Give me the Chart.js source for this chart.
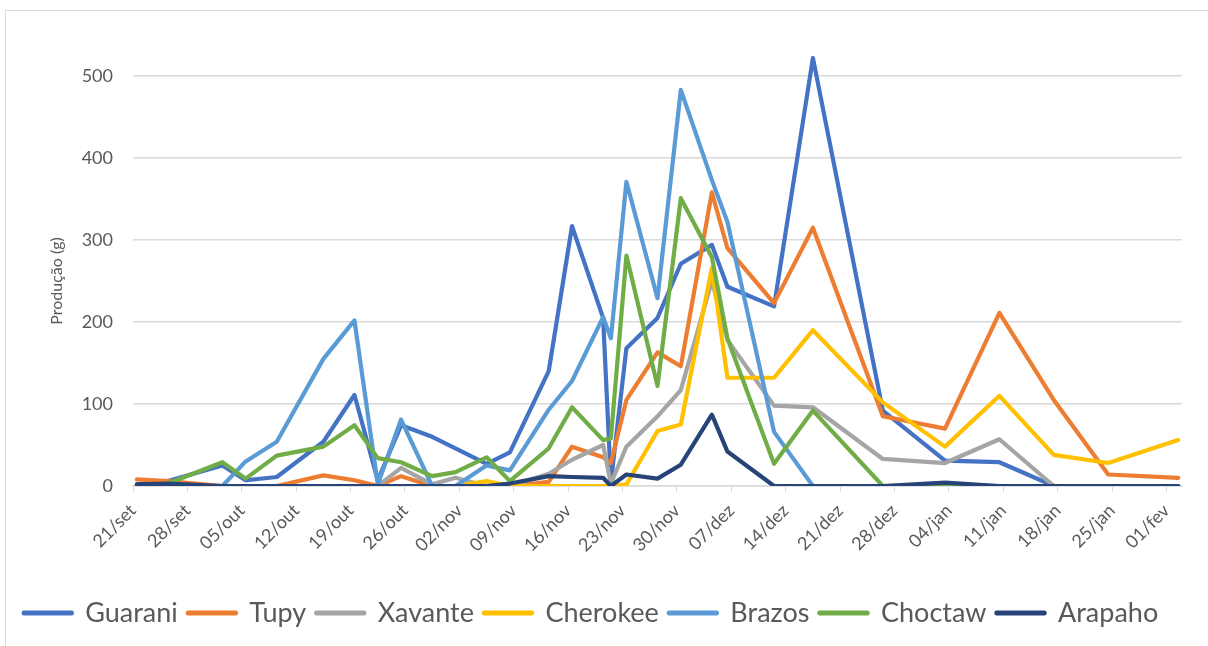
<!DOCTYPE html>
<html lang="pt">
<head>
<meta charset="utf-8">
<title>Produção por cultivar</title>
<script src="https://cdn.jsdelivr.net/npm/chart.js@4.4.1/dist/chart.umd.min.js"></script>
<style>
  html, body { margin: 0; padding: 0; background: #ffffff; }
  #wrap { position: relative; width: 1208px; height: 646px; overflow: hidden; }
  #frame { position: absolute; left: 5px; top: 10px; width: 1230px; height: 660px;
           border: 1px solid #d9d9d9; box-sizing: border-box; pointer-events: none; }
  canvas { position: absolute; left: 0; top: 0; }
</style>
</head>
<body>
<div id="wrap">
  <div id="frame"></div>
  <canvas id="chart" width="1208" height="646"></canvas>
</div>
<script>
// Harvest dates (ISO) shared by all cultivars
const harvestDates = [
  '2019-09-21','2019-09-25','2019-10-02','2019-10-05','2019-10-09','2019-10-15',
  '2019-10-19','2019-10-22','2019-10-25','2019-10-29','2019-11-01','2019-11-05',
  '2019-11-08','2019-11-13','2019-11-16','2019-11-20','2019-11-21','2019-11-23',
  '2019-11-27','2019-11-30','2019-12-04','2019-12-06','2019-12-12','2019-12-17',
  '2019-12-26','2020-01-03','2020-01-10','2020-01-17','2020-01-24','2020-02-02'
];

// Production (g) per harvest date
const guarani  = [2,6,25,7,11,54,111,7,74,60,46,27,41,140,317,205,5,168,205,271,294,243,219,522,92,31,29,0,0,0];
const tupy     = [8,6,0,0,0,13,7,0,12,0,0,0,0,5,48,35,28,105,163,146,358,290,223,315,85,70,211,105,14,10];
const xavante  = [0,0,0,0,0,0,0,0,22,2,10,0,0,15,32,50,3,48,85,117,250,178,98,96,33,28,57,0,0,0];
const cherokee = [0,0,0,0,0,0,0,0,0,0,0,6,0,0,0,0,0,2,67,75,266,132,132,190,102,48,110,38,28,56];
const brazos   = [0,0,0,30,54,155,202,2,81,0,0,25,19,93,128,206,180,371,229,483,373,322,66,0,0,0,0,0,0,0];
const choctaw  = [0,3,29,9,37,48,74,34,29,12,17,35,6,46,96,56,58,281,122,351,279,180,27,92,0,0,0,0,0,0];
const arapaho  = [2,3,0,0,0,0,0,0,0,0,0,0,3,12,11,10,0,14,9,26,87,42,0,0,0,4,0,0,0,0];

// Axis labelling
const axisStart = '2019-09-21';
const weekTickCount = 20;          // 21/set ... 01/fev
const axisDays = 135;
const monthNames = ['jan','fev','mar','abr','mai','jun','jul','ago','set','out','nov','dez'];
const yMax = 550, yStep = 100;
const yTitle = 'Produção (g)';

const DAY = 86400000;
const t0 = Date.parse(axisStart + 'T00:00:00Z');
const dayOffset = iso => Math.round((Date.parse(iso + 'T00:00:00Z') - t0) / DAY);
// each value sits in the middle of its calendar day
const toPoints = vals => vals.map((v, i) => ({ x: dayOffset(harvestDates[i]) + 0.5, y: v }));
const fmtDay = d => {
  const dt = new Date(t0 + d * DAY);
  return String(dt.getUTCDate()).padStart(2, '0') + '/' + monthNames[dt.getUTCMonth()];
};
const weekTicks = Array.from({ length: weekTickCount }, (_, i) => i * 7);

const series = [
  ['Guarani',  guarani,  '#4472C4'],
  ['Tupy',     tupy,     '#ED7D31'],
  ['Xavante',  xavante,  '#A5A5A5'],
  ['Cherokee', cherokee, '#FFC000'],
  ['Brazos',   brazos,   '#5B9BD5'],
  ['Choctaw',  choctaw,  '#70AD47'],
  ['Arapaho',  arapaho,  '#264478']
];

const FONT = 'Lato, "Noto Sans", sans-serif';
const TEXT = '#595959';
const GRID = '#d9d9d9';

// Vertical axis title, centred on the value range 0–500
const yTitlePlugin = {
  id: 'yTitle',
  afterDraw(chart) {
    const { ctx, scales } = chart;
    const y = scales.y;
    const cy = (y.getPixelForValue(0) + y.getPixelForValue(500)) / 2;
    ctx.save();
    ctx.translate(57, cy);
    ctx.rotate(-Math.PI / 2);
    ctx.fillStyle = TEXT;
    ctx.font = '16px ' + FONT;
    ctx.textAlign = 'center';
    ctx.textBaseline = 'middle';
    ctx.fillText(yTitle, 0, 0);
    ctx.restore();
  }
};

new Chart(document.getElementById('chart'), {
  type: 'line',
  data: {
    datasets: series.map(([name, vals, color], i) => ({
      label: name,
      data: toPoints(vals),
      borderColor: color,
      backgroundColor: color,
      borderWidth: 4.2,
      borderJoinStyle: 'round',
      borderCapStyle: 'round',
      pointRadius: 0,
      pointHoverRadius: 0,
      tension: 0,
      order: series.length - i   // later series drawn on top
    }))
  },
  options: {
    responsive: false,
    animation: false,
    events: [],
    layout: { padding: { left: 0, right: 26, top: 35, bottom: 9.5 } },
    scales: {
      x: {
        type: 'linear',
        min: 0,
        max: axisDays,
        afterBuildTicks: s => { s.ticks = weekTicks.map(v => ({ value: v })); },
        afterFit: s => { s.height = 103.5; },
        ticks: {
          autoSkip: false,
          minRotation: 45,
          maxRotation: 45,
          padding: 8,
          color: TEXT,
          font: { family: FONT, size: 18 },
          callback: v => fmtDay(v)
        },
        grid: { drawOnChartArea: false, drawTicks: true, tickLength: 6, color: GRID, lineWidth: 1 },
        border: { display: true, color: GRID, width: 1.5 }
      },
      y: {
        min: 0,
        max: yMax,
        afterFit: s => { s.width = 133; },
        ticks: {
          stepSize: yStep,
          includeBounds: false,
          padding: 20,
          color: TEXT,
          font: { family: FONT, size: 18 }
        },
        grid: { color: GRID, lineWidth: 1.5, drawTicks: false },
        border: { display: false }
      }
    },
    plugins: {
      tooltip: { enabled: false },
      legend: {
        position: 'bottom',
        labels: {
          color: TEXT,
          font: { family: FONT, size: 27 },
          boxWidth: 48,
          boxHeight: 1,
          padding: 10,
          sort: (a, b) => a.datasetIndex - b.datasetIndex
        }
      }
    }
  },
  plugins: [yTitlePlugin]
});
</script>
</body>
</html>
